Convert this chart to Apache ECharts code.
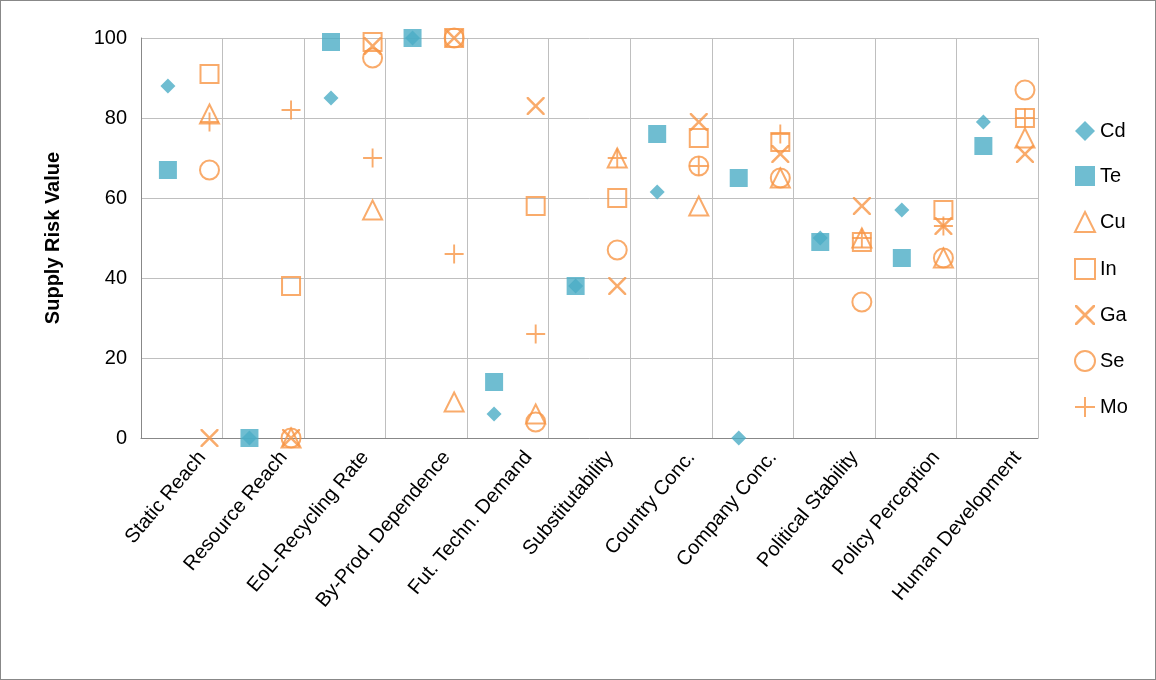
<!DOCTYPE html>
<html><head><meta charset="utf-8">
<script src="https://cdn.jsdelivr.net/npm/echarts@6/dist/echarts.min.js"></script>
<style>html,body{margin:0;background:#fff}#c{width:1156px;height:680px;box-sizing:border-box;border:1px solid #888}</style>
</head><body><div id="c"></div>
<script>
const categories=["Static Reach","Resource Reach","EoL-Recycling Rate","By-Prod. Dependence","Fut. Techn. Demand","Substitutability","Country Conc.","Company Conc.","Political Stability","Policy Perception","Human Development"];
const Cd=[88,0,85,100,6,38,61.5,0,50,57,79];
const Te=[67,0,99,100,14,38,76,65,49,45,73];
const Cu=[81,0,57,9,6,70,58,65,50,45,75];
const In=[91,38,99,100,58,60,75,74,49,57,80];
const Ga=[0,0,98,100,83,38,79,71,58,53,71];
const Se=[67,0,95,100,4,47,68,65,34,45,87];
const Mo=[79,82,70,46,26,70,68,76,50,53,80];
const teal='#4bacc6', orange='#f79646';
const X='path://M0,0 L2,0 L10,8 L18,0 L20,0 L20,2 L12,10 L20,18 L20,20 L18,20 L10,12 L2,20 L0,20 L0,18 L8,10 L0,2 Z';
const P='path://M9,0 L11,0 L11,9 L20,9 L20,11 L11,11 L11,20 L9,20 L9,11 L0,11 L0,9 L9,9 Z';
function pts(arr,off){return arr.map((v,i)=>[i+off,v]);}
function s(name,arr,off,symbol,size,filled,color){
  return {name,type:'scatter',xAxisIndex:0,data:pts(arr,off),symbol,symbolSize:size,
    itemStyle:filled?{color}:{color:'rgba(255,255,255,0)',borderColor:color,borderWidth:2}};
}
const labelSlots=[];categories.forEach(c=>{labelSlots.push('');labelSlots.push(c);});
const chart=echarts.init(document.getElementById('c'));
chart.setOption({
  animation:false,
  grid:{left:140,right:117,top:37,bottom:241},
  legend:{orient:'vertical',left:1068,top:115,itemGap:25,itemWidth:20,itemHeight:20,
    textStyle:{fontFamily:'Liberation Sans',fontSize:20,color:'#000'},
    data:['Cd','Te','Cu','In','Ga','Se','Mo']},
  xAxis:[
    {type:'value',min:0,max:11,interval:1,axisLabel:{show:false},axisTick:{show:false},
     axisLine:{show:false},splitLine:{lineStyle:{color:'#bfbfbf'}}},
    {type:'category',data:labelSlots,position:'bottom',boundaryGap:true,
     axisLine:{lineStyle:{color:'#888'}},axisTick:{show:false},
     axisLabel:{rotate:50,interval:(i)=>i%2===1,margin:16,fontFamily:'Liberation Sans',fontSize:20,color:'#000'}}
  ],
  yAxis:{type:'value',min:0,max:100,interval:20,name:'Supply Risk Value',nameLocation:'middle',nameGap:78,
    nameTextStyle:{fontFamily:'Liberation Sans',fontSize:20,fontWeight:'bold',color:'#000'},
    axisLine:{show:true,lineStyle:{color:'#888'}},axisTick:{show:false},
    axisLabel:{fontFamily:'Liberation Sans',fontSize:20,color:'#000',margin:14},
    splitLine:{lineStyle:{color:'#bfbfbf'}}},
  series:[
    s('Cd',Cd,0.33,'diamond',15,true,teal),
    s('Te',Te,0.33,'rect',18,true,teal),
    s('Cu',Cu,0.84,'triangle',19,false,orange),
    s('In',In,0.84,'rect',18,false,orange),
    s('Ga',Ga,0.84,X,18,true,orange),
    s('Se',Se,0.84,'circle',19,false,orange),
    s('Mo',Mo,0.84,P,19,true,orange)
  ]
});
</script></body></html>
